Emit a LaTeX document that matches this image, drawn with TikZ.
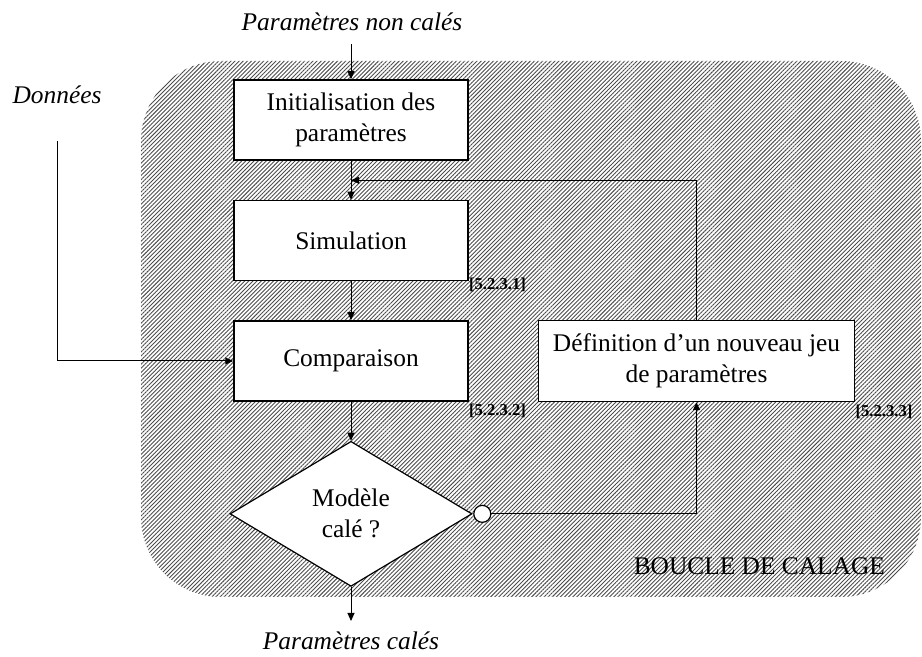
\documentclass[tikz,border=0pt]{standalone}
\usepackage{fontspec}
\setmainfont{Liberation Serif}
\usetikzlibrary{arrows.meta,positioning,shapes.geometric,patterns.meta,calc}

\begin{document}
\begin{tikzpicture}[
    x=0.5pt, y=-0.5pt,
    node distance=19.5pt and 34.5pt,
    every node/.style={font=\fontsize{12.7}{15.5}\selectfont},
    bx/.style={draw, line width=0.75pt, fill=white, minimum width=117pt, minimum height=40pt, inner sep=0pt, align=center},
    dec/.style={diamond, draw, line width=0.6pt, fill=white, minimum width=121pt, minimum height=72.5pt, inner sep=0pt, align=center},
    ring/.style={circle, draw, line width=0.6pt, fill=white, minimum size=8.5pt, inner sep=0pt},
    tag/.style={font=\fontsize{8.3}{9}\selectfont\bfseries, inner sep=0pt},
    io/.style={font=\fontsize{12.7}{15.5}\selectfont\itshape},
    ar/.style={-{Triangle[length=4pt, width=3.5pt]}, line width=0.5pt}
  ]
    \useasboundingbox (0,0) rectangle (922,657);

    % zone hachuree de la boucle
    \fill[pattern={Lines[angle=45, distance=1.45pt, line width=0.45pt]}, pattern color=black!70,
      rounded corners=40pt] (141,61) rectangle (921,597);
    \node[anchor=east] (boucle) at (892,566) {BOUCLE DE CALAGE};

    \node[bx] (init) at (351,120) {Initialisation des\\param\`etres};
    \node[bx, below=of init] (sim) {Simulation};
    \node[bx, below=of sim] (comp) {Comparaison};
    \node[dec, below=of comp] (cale) {Mod\`ele\\cal\'e ?};
    \node[bx, right=of comp, minimum width=158pt, minimum height=40.5pt] (def) {D\'efinition d’un nouveau jeu\\de param\`etres};
    \node[ring, anchor=west] (non) at ([xshift=0.3pt]cale.east) {};

    \node[tag, anchor=north west] at ([yshift=2pt]sim.south east) {[5.2.3.1]};
    \node[tag, anchor=north west] at ([yshift=-1pt]comp.south east) {[5.2.3.2]};
    \node[tag, anchor=north west] at ([yshift=-1pt]def.south east) {[5.2.3.3]};

    \node[io] (pnc) at (352,22) {Param\`etres non cal\'es};
    \node[io] (don) at (57,95) {Donn\'ees};
    \node[io] (pc) at (351,641) {Param\`etres cal\'es};

    \draw[ar] ([yshift=-3pt]init.north |- pnc.south) -- (init);
    \draw[ar] (init) -- (sim);
    \draw[ar] (sim) -- (comp);
    \draw[ar] (comp) -- (cale);
    \draw[ar] ([yshift=-15pt]don.south) |- (comp.west);
    \draw[ar] (non.east) -| (def.south);
    \draw[ar] (def.north) |- ($(init.south)!0.5!(sim.north)$);
    \draw[ar] (cale.south) -- ([yshift=2pt]pc.north);
  \end{tikzpicture}
\end{document}
